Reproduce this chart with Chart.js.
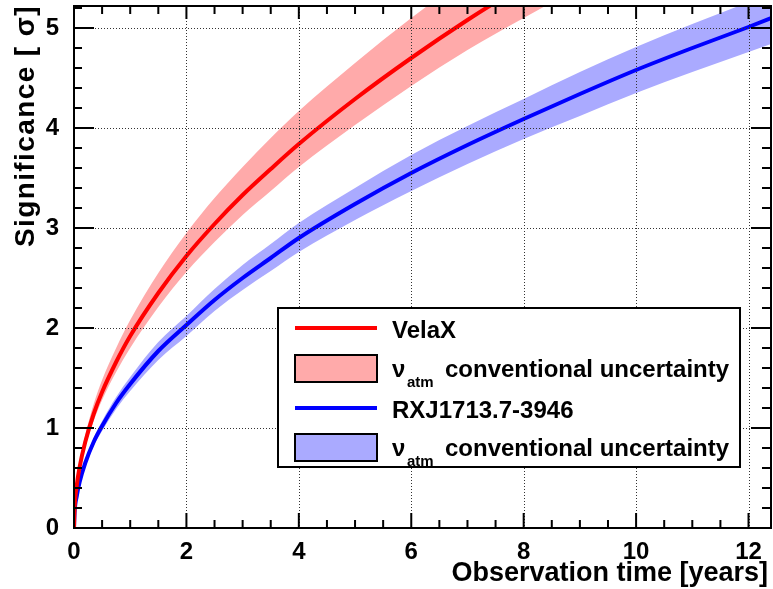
<!DOCTYPE html>
<html>
<head>
<meta charset="utf-8">
<title>Significance vs observation time</title>
<script src="https://cdn.jsdelivr.net/npm/chart.js@4.4.0/dist/chart.umd.min.js"></script>
<style>
  html, body { margin: 0; padding: 0; background: #fff; }
  #wrap { width: 773px; height: 589px; }
</style>
</head>
<body>
<div id="wrap"><canvas id="sig" width="773" height="589"></canvas></div>
<script>
// VelaX: expected significance and atmospheric-nu band
const velaTime = [0, 0.01, 0.05, 0.1, 0.2, 0.35, 0.5, 0.75, 1, 1.5, 2, 2.5, 3, 3.5, 4, 5, 6, 7, 8, 9];
const velaSig  = [0, 0.19, 0.43, 0.61, 0.86, 1.14, 1.36, 1.66, 1.92, 2.35, 2.72, 3.04, 3.33, 3.59, 3.84, 4.29, 4.70, 5.08, 5.43, 5.76];
const velaLow  = [0, 0.18, 0.40, 0.57, 0.81, 1.07, 1.28, 1.56, 1.80, 2.21, 2.56, 2.86, 3.13, 3.37, 3.61, 4.03, 4.42, 4.78, 5.10, 5.41];
const velaHigh = [0, 0.21, 0.47, 0.66, 0.93, 1.24, 1.48, 1.80, 2.08, 2.55, 2.95, 3.30, 3.61, 3.90, 4.17, 4.65, 5.10, 5.51, 5.89, 6.25];

// RXJ1713.7-3946
const rxjTime = [0, 0.01, 0.05, 0.1, 0.2, 0.35, 0.5, 0.75, 1, 1.5, 2, 2.5, 3, 3.5, 4, 5, 6, 7, 8, 9, 10, 11, 12, 12.5];
const rxjSig  = [0, 0.15, 0.32, 0.46, 0.65, 0.86, 1.02, 1.25, 1.44, 1.77, 2.03, 2.28, 2.50, 2.70, 2.90, 3.24, 3.55, 3.83, 4.09, 4.34, 4.58, 4.80, 5.01, 5.12];
const rxjLow  = [0, 0.14, 0.30, 0.44, 0.62, 0.82, 0.97, 1.19, 1.37, 1.68, 1.92, 2.17, 2.38, 2.57, 2.76, 3.08, 3.37, 3.64, 3.89, 4.12, 4.35, 4.56, 4.76, 4.86];
const rxjHigh = [0, 0.16, 0.34, 0.48, 0.68, 0.90, 1.07, 1.31, 1.51, 1.86, 2.12, 2.39, 2.63, 2.84, 3.05, 3.40, 3.73, 4.02, 4.29, 4.56, 4.81, 5.04, 5.26, 5.38];

const xTicks = [0, 2, 4, 6, 8, 10, 12];
const yTicks = [0, 1, 2, 3, 4, 5];

const FONT = '"Liberation Sans", Arial, Helvetica, sans-serif';
const RED = '#ff0000', BLUE = '#0000ff';
const RED_BAND = '#ffaaaa', BLUE_BAND = '#aaaaff';

const pts = (xs, ys) => xs.map((x, i) => ({ x: x, y: ys[i] }));

function band(xs, ys, color, fill) {
    return {
        data: pts(xs, ys), borderWidth: 0, borderColor: 'transparent',
        backgroundColor: color, pointRadius: 0, fill: fill, order: 2,
        cubicInterpolationMode: 'monotone'
    };
}
function curve(xs, ys, color) {
    return {
        data: pts(xs, ys), borderWidth: 4, borderColor: color, fill: false,
        pointRadius: 0, order: 0, cubicInterpolationMode: 'monotone'
    };
}

// ROOT-like frame: dotted grid on top of the bands, inward ticks on all four sides
const frame = {
    id: 'frame',
    afterDatasetsDraw(chart) {
        const { ctx, chartArea: a, scales: { x, y } } = chart;
        ctx.save();
        ctx.strokeStyle = '#333';
        ctx.lineWidth = 1;
        ctx.setLineDash([1, 2]);
        ctx.beginPath();
        xTicks.forEach(v => { const px = Math.round(x.getPixelForValue(v)) + 0.5; ctx.moveTo(px, a.top); ctx.lineTo(px, a.bottom); });
        yTicks.forEach(v => { const py = Math.round(y.getPixelForValue(v)) + 0.5; ctx.moveTo(a.left, py); ctx.lineTo(a.right, py); });
        ctx.stroke();
        ctx.setLineDash([]);

        ctx.strokeStyle = '#000';
        ctx.lineWidth = 2;
        ctx.beginPath();
        for (let v = 0; v <= x.max + 1e-6; v += 0.5) {
            const px = x.getPixelForValue(v);
            const major = Math.abs(v / 2 - Math.round(v / 2)) < 1e-6;
            ctx.moveTo(px, a.bottom); ctx.lineTo(px, a.bottom - (major ? 15 : 8));
            ctx.moveTo(px, a.top); ctx.lineTo(px, a.top + (major ? 13 : 8));
        }
        for (let v = 0; v <= y.max + 1e-6; v += 0.2) {
            const py = y.getPixelForValue(v);
            const major = Math.abs(v - Math.round(v)) < 1e-6;
            ctx.moveTo(a.left, py); ctx.lineTo(a.left + (major ? 20 : 8), py);
            ctx.moveTo(a.right, py); ctx.lineTo(a.right - (major ? 20 : 9), py);
        }
        ctx.stroke();
        ctx.strokeRect(a.left, a.top, a.right - a.left, a.bottom - a.top);
        ctx.restore();
    },
    afterDraw(chart) {
        const { ctx } = chart;
        ctx.save();
        ctx.fillStyle = '#000';
        // axis titles
        ctx.textAlign = 'right';
        ctx.textBaseline = 'alphabetic';
        ctx.font = 'bold 27px ' + FONT;
        ctx.fillText('Observation time [years]', 768, 581);
        ctx.font = 'bold 28px ' + FONT;
        ctx.letterSpacing = '1.4px';
        ctx.translate(34, 5);
        ctx.rotate(-Math.PI / 2);
        ctx.fillText('Significance [ \u03c3]', 0, 0);
        ctx.restore();

        // legend
        ctx.save();
        ctx.fillStyle = '#fff';
        ctx.fillRect(278, 308, 462, 159);
        ctx.strokeStyle = '#000';
        ctx.lineWidth = 2;
        ctx.strokeRect(278, 308, 462, 159);

        const lineEntry = (yc, color, label) => {
            ctx.strokeStyle = color; ctx.lineWidth = 4;
            ctx.beginPath(); ctx.moveTo(295, yc); ctx.lineTo(377, yc); ctx.stroke();
            ctx.fillStyle = '#000';
            ctx.font = 'bold 24px ' + FONT;
            ctx.textAlign = 'left';
            ctx.fillText(label, 392, yc + 10);
        };
        const bandEntry = (top, color) => {
            ctx.fillStyle = color; ctx.fillRect(295, top, 82, 27);
            ctx.strokeStyle = '#000'; ctx.lineWidth = 2; ctx.strokeRect(295, top, 82, 27);
            ctx.fillStyle = '#000';
            ctx.textAlign = 'left';
            ctx.font = 'bold 24px ' + FONT;
            ctx.fillText('\u03bd', 392, top + 22);
            ctx.font = 'bold 15px ' + FONT;
            ctx.fillText('atm', 407, top + 32);
            ctx.font = 'bold 24px ' + FONT;
            ctx.fillText('conventional uncertainty', 445, top + 22);
        };
        lineEntry(328, RED, 'VelaX');
        bandEntry(355, RED_BAND);
        lineEntry(408, BLUE, 'RXJ1713.7-3946');
        bandEntry(434, BLUE_BAND);
        ctx.restore();
    }
};

const noPad = s => { s.paddingTop = 0; s.paddingBottom = 0; s.paddingLeft = 0; s.paddingRight = 0; };

new Chart(document.getElementById('sig'), {
    type: 'line',
    data: {
        datasets: [
            band(velaTime, velaLow, RED_BAND, false),
            band(velaTime, velaHigh, RED_BAND, '-1'),
            band(rxjTime, rxjLow, BLUE_BAND, false),
            band(rxjTime, rxjHigh, BLUE_BAND, '-1'),
            curve(velaTime, velaSig, RED),
            curve(rxjTime, rxjSig, BLUE)
        ]
    },
    options: {
        responsive: false,
        animation: false,
        devicePixelRatio: 1,
        layout: { padding: { top: 6, right: 2, left: 0, bottom: 0 } },
        plugins: { legend: { display: false }, tooltip: { enabled: false } },
        scales: {
            x: {
                type: 'linear', min: 0, max: 12.4,
                grid: { display: false },
                border: { display: false },
                ticks: {
                    stepSize: 2, includeBounds: false, padding: 2, maxRotation: 0,
                    color: '#000', font: { family: FONT, size: 24, weight: 'bold' }
                },
                afterFit(s) { s.height = 61; noPad(s); }
            },
            y: {
                type: 'linear', min: 0, max: 5.22,
                grid: { display: false },
                border: { display: false },
                ticks: {
                    stepSize: 1, includeBounds: false, padding: 7,
                    color: '#000', font: { family: FONT, size: 24, weight: 'bold' }
                },
                afterFit(s) { s.width = 74; noPad(s); }
            }
        }
    },
    plugins: [frame]
});
</script>
</body>
</html>
